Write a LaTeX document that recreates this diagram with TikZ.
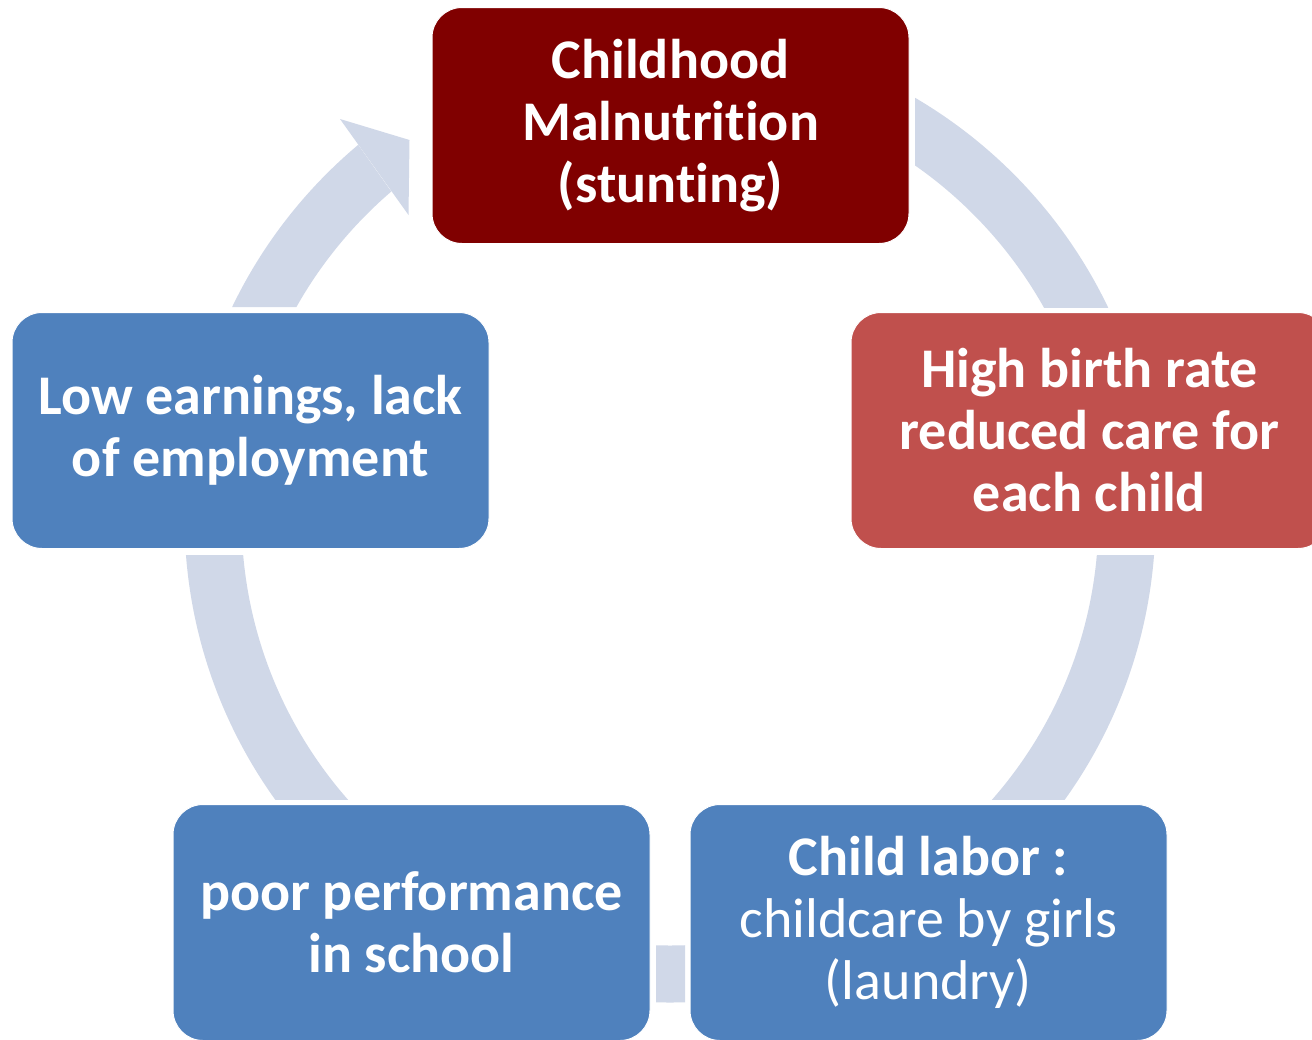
\documentclass[tikz,border=0pt]{standalone}
\usepackage{fontspec}
\setmainfont[Ligatures=NoCommon]{Carlito}
\definecolor{maroonbox}{HTML}{800000}
\definecolor{redbox}{HTML}{C0504D}
\definecolor{bluebox}{HTML}{4F81BD}
\definecolor{ringcol}{HTML}{D0D8E8}
\tikzset{
  cyclebox/.style={rounded corners=30pt, minimum width=477pt, minimum height=236pt,
    inner sep=0pt, draw=white, line width=1pt, text=white, align=center,
    font=\fontsize{56pt}{62pt}\selectfont\bfseries},
  ringpart/.style={fill=ringcol, even odd rule},
}
\begin{document}
\begin{tikzpicture}[x=1pt,y=-1pt]
\useasboundingbox (0,0) rectangle (1312,1039);
\clip (0,0) rectangle (1312,1039);
\fill[white] (0,0) rectangle (1312,1039);
\coordinate (C) at (670,517);

% ring segments (circular connectors)
\begin{scope}
  \clip (915,0) rectangle (1312,307);
  \fill[ringpart] (C) circle[radius=485.5pt] (C) circle[radius=428.5pt];
\end{scope}
\begin{scope}
  \clip (670,555) rectangle (1312,799);
  \fill[ringpart] (C) circle[radius=485.5pt] (C) circle[radius=428.5pt];
\end{scope}
\begin{scope}
  \clip (656,900) rectangle (685,1039);
  \fill[ringpart] (C) circle[radius=485.5pt] (C) circle[radius=428.5pt];
\end{scope}
\begin{scope}
  \clip (0,555) rectangle (670,799);
  \fill[ringpart] (C) circle[radius=485.5pt] (C) circle[radius=428.5pt];
\end{scope}
\begin{scope}
  \clip (0,307) -- (0,0) -- (255.7,0) -- (473,307) -- cycle;
  \fill[ringpart] (C) circle[radius=485.5pt] (C) circle[radius=428.5pt];
\end{scope}
\coordinate (headA) at (340,119);
\coordinate (headB) at (409.5,140);
\coordinate (headC) at (408.5,215);
\fill[ringcol] (headA) -- (headB) -- (headC) -- cycle;

% boxes
\node[cyclebox, fill=maroonbox] (top) at (670.5,125.5) {Childhood\\Malnutrition\\(stunting)};
\node[cyclebox, fill=redbox] (right) at (1089.5,430.5) {High birth rate\\reduced care for\\each child};
\node[cyclebox, fill=bluebox] (bright) at (928.5,922.5) {Child labor :\\{\mdseries childcare by girls}\\{\mdseries (laundry)}};
\node[cyclebox, fill=bluebox] (bleft) at (411.5,922.5) {poor performance\\in school};
\node[cyclebox, fill=bluebox] (left) at (250.5,430.5) {Low earnings, lack\\of employment};
\end{tikzpicture}
\end{document}
